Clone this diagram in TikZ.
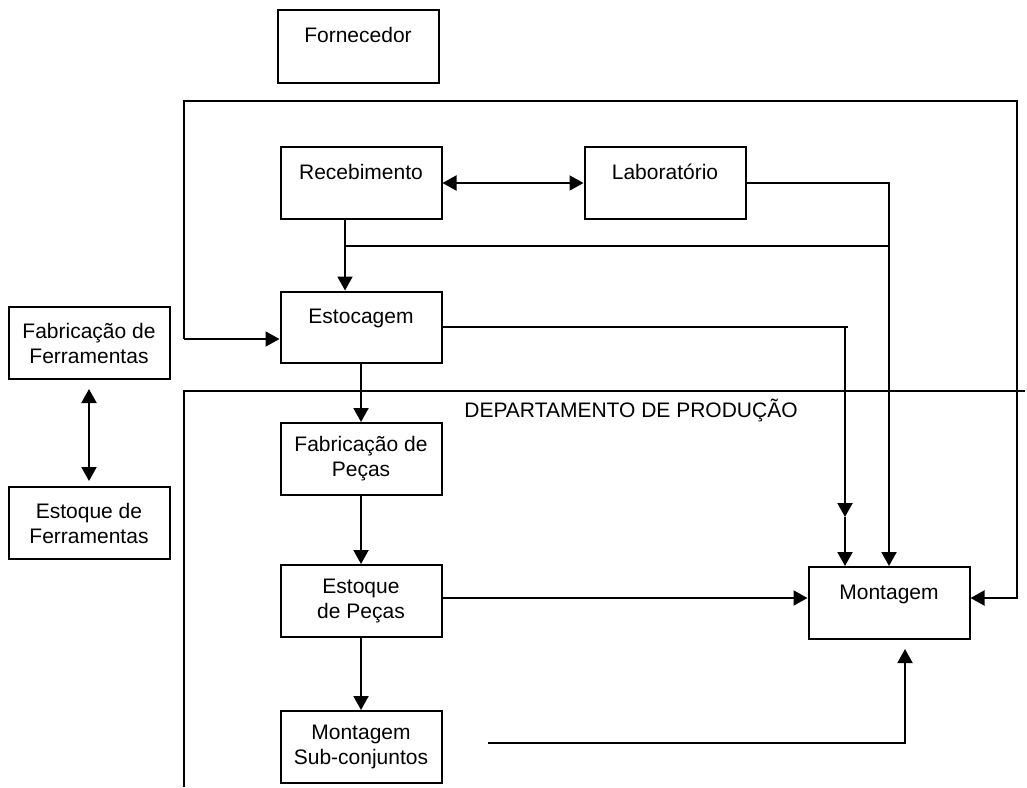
\documentclass[tikz,border=0pt]{standalone}
\usepackage{fontspec}
\setmainfont{Liberation Sans}
\usetikzlibrary{arrows.meta}
\begin{document}
\begin{tikzpicture}[x=1pt,y=-1pt,
  every node/.style={font=\fontsize{21}{25}\selectfont},
  boxbase/.style={draw, line width=2pt, inner sep=0pt, minimum width=161pt, minimum height=72pt},
  onel/.style={boxbase, text height=15pt, text depth=23pt},
  twol/.style={boxbase, align=center},
  wire/.style={line width=2pt},
  arr/.style={wire, -{Triangle[length=14pt,width=15pt]}},
  darr/.style={wire, {Triangle[length=14pt,width=15pt]}-{Triangle[length=14pt,width=15pt]}}]
\useasboundingbox (0,0) rectangle (1027,787);

% boxes
\node[onel, minimum height=73pt] (forn) at (358,46.5) {Fornecedor};
\node[onel] (receb) at (361,183) {Recebimento};
\node[onel] (lab) at (665,183) {Laboratório};
\node[onel, minimum height=71pt] (estoc) at (361,327) {Estocagem};
\node[twol] (fabf) at (89,343) {Fabricação de\\Ferramentas};
\node[twol] (estf) at (89,523) {Estoque de\\Ferramentas};
\node[twol] (fabp) at (361,459) {Fabricação de\\Peças};
\node[twol] (estp) at (361,601) {Estoque\\de Peças};
\node[twol] (msub) at (361,747) {Montagem\\Sub-conjuntos};
\node[onel] (mont) at (889,603) {Montagem};
\node (dept) at (631,410) {DEPARTAMENTO DE PRODUÇÃO};

% routing points
\coordinate (o1) at (184,339);
\coordinate (o3) at (1017,101);
\coordinate (o4) at (1017,598);
\coordinate (j1) at (345,246);
\coordinate (j2) at (889,246);
\coordinate (k0) at (848,327);
\coordinate (k1) at (845,327);
\coordinate (k2) at (845,517);
\coordinate (m1) at (488,743);
\coordinate (m2) at (905,743);
\coordinate (d1) at (184,787);
\coordinate (d2) at (184,391);
\coordinate (d3) at (1025,391);

% production department boundary
\draw[wire] (d1) -- (d2) -- (d3);

% outer loop
\draw[arr] (o1) |- (o3) -- (o4) -- (mont.east |- o4);
\draw[arr] (o1) -- (estoc.west |- o1);

% connectors
\draw[darr] (receb.east) -- (lab.west);
\draw[arr] (lab.east) -| (mont.north -| j2);
\draw[wire] (receb.south -| j1) -- (j1) -- (j2);
\draw[arr] (j1) -- (estoc.north -| j1);
\draw[wire] (estoc.east) -- (k0);
\draw[arr] (k1) -- (k2);
\draw[arr] (k2) -- (mont.north -| k2);
\draw[arr] (estoc.south) -- (fabp.north);
\draw[arr] (fabp.south) -- (estp.north);
\draw[arr] (estp.east |- o4) -- (mont.west |- o4);
\draw[arr] (estp.south) -- (msub.north);
\draw[arr, shorten >=9pt] (m1) -- (m2) -- (mont.south -| m2);
\draw[darr, shorten <=9pt, shorten >=5pt] (fabf.south) -- (estf.north);
\end{tikzpicture}
\end{document}
